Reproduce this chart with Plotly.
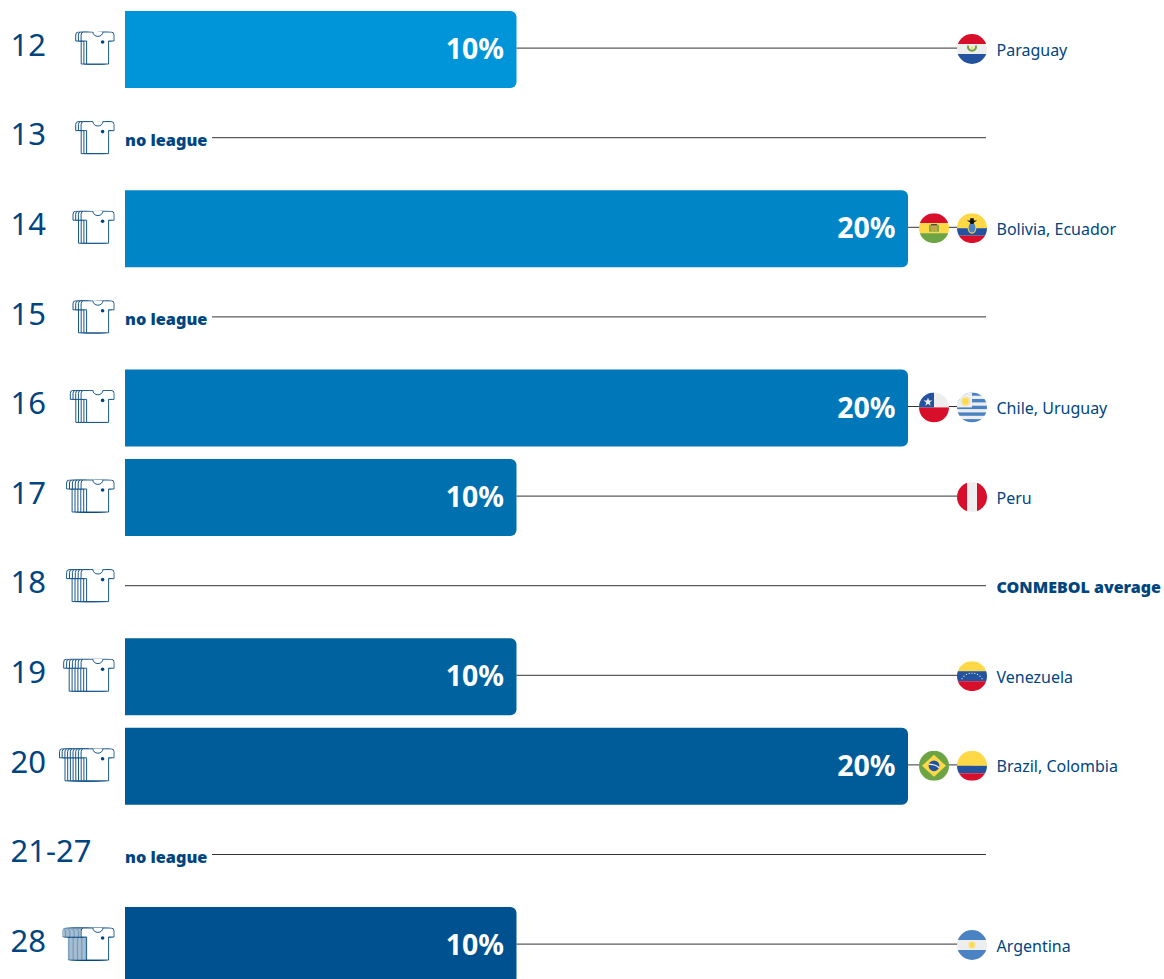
import base64
import plotly.graph_objects as go

# ---- data ----
rows = ["12", "13", "14", "15", "16", "17", "18", "19", "20", "21-27", "28"]
values = [10, None, 20, None, 20, 10, None, 10, 20, None, 10]
bar_colors = ["#0095D8", "#008DCF", "#0085C7", "#007EC0", "#0077B8", "#0070AF",
              "#0069A7", "#0063A0", "#005C98", "#005694", "#00518F"]
countries = ["Paraguay", "", "Bolivia, Ecuador", "", "Chile, Uruguay", "Peru",
             "CONMEBOL average", "Venezuela", "Brazil, Colombia", "", "Argentina"]
row_flags = [["paraguay"], [], ["bolivia", "ecuador"], [], ["chile", "uruguay"], ["peru"],
             [], ["venezuela"], ["brazil", "colombia"], [], ["argentina"]]
no_league = [False, True, False, True, False, False, False, False, False, True, False]
# back shirts behind the front one and their spacing in px
shirt_back = [2, 2, 3, 3, 4, 5, 5, 6, 8, 0, 14]
shirt_step = [2.7, 2.7, 2.7, 2.7, 2.7, 2.9, 2.9, 2.9, 2.7, 0, 1.3]

# ---- scales: the axes fill the page, one data unit = PX px ----
W, H = 1164, 979
PX = 39.15
ROW = 89.6
X0 = 125
Y0 = 49.5
NAVY = "#00457F"
LINE = "#333333"
FONT = "Noto Sans"

def px_x(p):
    return (p - X0) / PX

def px_dy(p):
    return p / ROW

idx = list(range(len(rows)))

# ---- flags and shirts as small vector pictures ----
RED, YEL, BLU, WHT, GRN, LBL = "#D80F2A", "#FFD945", "#23529F", "#EEEEEE", "#6DA544", "#4A83C4"

def bands(*items):
    return "".join(f'<rect x="0" y="{y}" width="30" height="{h}" fill="{c}"/>' for y, h, c in items)

sun = lambda cx, cy, r: (f'<circle cx="{cx}" cy="{cy}" r="{r*1.7}" fill="{YEL}" opacity=".55"/>'
                         f'<circle cx="{cx}" cy="{cy}" r="{r}" fill="{YEL}"/>')
FLAGS = {
    "paraguay": bands((0, 10, RED), (10, 10, WHT), (20, 10, BLU)) +
        f'<path d="M11.2 11.5a4 4 0 1 0 7.6 0" fill="none" stroke="{GRN}" stroke-width="2"/>' +
        f'<circle cx="15" cy="13.8" r="1.3" fill="{YEL}"/>',
    "bolivia": bands((0, 10, RED), (10, 10, YEL), (20, 10, GRN)) +
        f'<rect x="10" y="11.5" width="10" height="7" fill="{GRN}" opacity=".85"/><rect x="12" y="12.5" width="6" height="5" fill="#C9A24A"/>' +
        '<rect x="12" y="11" width="6" height="1" fill="#333"/>',
    "ecuador": bands((0, 15, YEL), (15, 7.5, BLU), (22.5, 7.5, RED)) +
        f'<ellipse cx="15" cy="14.5" rx="4.4" ry="6" fill="{YEL}"/><ellipse cx="15" cy="14.5" rx="3.4" ry="5" fill="{LBL}"/>' +
        '<path d="M9.8 7.2h10.4l-3 1.8 -.8 1.8h-2.8l-.8-1.8z M13.2 5h3.6v3h-3.6z" fill="#111"/>',
    "chile": bands((0, 15, WHT), (15, 15, RED)) +
        f'<rect x="0" y="0" width="15" height="15" fill="{BLU}"/>' +
        f'<path d="M9 5l1.1 3.2h3.3l-2.7 2 1 3.2-2.7-2-2.7 2 1-3.2-2.7-2h3.3z" fill="{WHT}"/>',
    "uruguay": bands((0, 30, WHT), (0, 3.3, LBL), (6.6, 3.4, LBL), (13.3, 3.4, LBL), (20, 3.4, LBL), (26.7, 3.3, LBL)) +
        f'<rect x="0" y="0" width="15" height="15" fill="{WHT}"/>' + sun(8.5, 9, 2.7),
    "peru": f'<rect width="30" height="30" fill="{WHT}"/><rect width="10" height="30" fill="{RED}"/><rect x="20" width="10" height="30" fill="{RED}"/>',
    "venezuela": bands((0, 10, YEL), (10, 10, BLU), (20, 10, RED)) +
        "".join(f'<circle cx="{x}" cy="{y}" r=".6" fill="{WHT}"/>' for x, y in
                [(5, 17.5), (7, 15), (9.5, 13.2), (12.2, 12.2), (15, 12), (17.8, 12.2), (20.5, 13.2), (23, 15), (25, 17.5)]),
    "brazil": f'<rect width="30" height="30" fill="{GRN}"/><path d="M15 4L27 15 15 26 3 15z" fill="{YEL}"/>' +
        f'<circle cx="15" cy="15" r="5.4" fill="{BLU}"/><path d="M9.8 13.6q6 -.6 10.4 3.4" fill="none" stroke="{WHT}" stroke-width="1.3"/>',
    "colombia": bands((0, 15, YEL), (15, 7.5, BLU), (22.5, 7.5, RED)),
    "argentina": bands((0, 10, LBL), (10, 10, WHT), (20, 10, LBL)) + sun(15, 15, 2.2),
}

def uri(svg):
    return "data:image/svg+xml;base64," + base64.b64encode(svg.encode()).decode()

def flag_svg(name):
    return uri('<svg xmlns="http://www.w3.org/2000/svg" width="30" height="30" viewBox="0 0 30 30">'
               f'<defs><clipPath id="c"><circle cx="15" cy="15" r="15"/></clipPath></defs>'
               f'<g clip-path="url(#c)">{FLAGS[name]}</g></svg>')

SHIRT = ("M3 .5H12.3A5 4.4 0 0 0 22.3 .5H30.5Q33.5 .5 33.5 3.5V9.5H28V32.5H6V9.5H.5V3.5Q.5 .5 3 .5Z")

def shirt_svg(n, step):
    w, h = 60, 34
    sw = 0.9 if step > 2 else 0.55
    parts = []
    fx = w - 34.2   # front shirt left edge
    for k in range(n, 0, -1):
        parts.append(f'<path transform="translate({fx - k*step} 0)" d="{SHIRT}" fill="#fff" stroke="{NAVY}" stroke-width="{sw}"/>')
    # white patch so that nothing of the back shirts shows through the front neck
    parts.append(f'<rect x="{fx + 8}" y="0" width="18" height="8" fill="#fff"/>')
    parts.append(f'<path transform="translate({fx} 0)" d="{SHIRT}" fill="#fff" stroke="{NAVY}" stroke-width=".9"/>')
    parts.append(f'<circle cx="{fx + 22}" cy="10.5" r="1.8" fill="{NAVY}"/>')
    return uri(f'<svg xmlns="http://www.w3.org/2000/svg" width="{w}" height="{h}" viewBox="0 0 {w} {h}">' + "".join(parts) + '</svg>')

# ---- figure ----
fig = go.Figure()

# leader lines
LINE_DY = px_dy(-1.4)
line_x, line_y = [], []
for i in idx:
    if no_league[i]:
        start, end = px_x(212), px_x(986)
    elif values[i] is None:
        start, end = px_x(125), px_x(986)
    else:
        start, end = values[i], px_x(972)
    line_x += [start, end, None]
    line_y += [i + LINE_DY, i + LINE_DY, None]
fig.add_trace(go.Scatter(x=line_x, y=line_y, mode="lines", line=dict(color=LINE, width=1), hoverinfo="skip"))

# bars
fig.add_trace(go.Bar(x=values, y=idx, orientation="h", width=77 / ROW,
                     marker=dict(color=bar_colors, line=dict(width=0)), hoverinfo="skip"))

# percentage labels
bi = [i for i in idx if values[i] is not None]
fig.add_trace(go.Scatter(x=[values[i] - 12.5 / PX for i in bi], y=[i + px_dy(2.5) for i in bi],
                         text=[f"{values[i]}%" for i in bi], mode="text", textposition="middle left",
                         textfont=dict(family=FONT, size=28.5, color="white", weight="bold"), hoverinfo="skip"))

# row labels
fig.add_trace(go.Scatter(x=[px_x(10.5)] * len(idx), y=[i + px_dy(-1.5) for i in idx], text=rows, mode="text",
                         textposition="middle right", textfont=dict(family=FONT, size=31, color=NAVY),
                         cliponaxis=False, hoverinfo="skip"))

# no league labels
nl = [i for i in idx if no_league[i]]
fig.add_trace(go.Scatter(x=[0] * len(nl), y=[i + px_dy(3) for i in nl], text=["no league"] * len(nl), mode="text",
                         textposition="middle right", textfont=dict(family=FONT, size=16.3, color=NAVY, weight=900),
                         hoverinfo="skip"))

# country labels
ci = [i for i in idx if countries[i] and values[i] is not None]
fig.add_trace(go.Scatter(x=[px_x(996.5)] * len(ci), y=[i + px_dy(2) for i in ci], text=[countries[i] for i in ci],
                         mode="text", textposition="middle right", textfont=dict(family=FONT, size=16, color=NAVY),
                         hoverinfo="skip"))
ai = [i for i in idx if countries[i] and values[i] is None]
fig.add_trace(go.Scatter(x=[px_x(996.5)] * len(ai), y=[i + px_dy(2) for i in ai], text=[countries[i] for i in ai],
                         mode="text", textposition="middle right", textfont=dict(family=FONT, size=16, color=NAVY, weight=900),
                         hoverinfo="skip"))

# flags and shirts, placed through the axes
images = []
for i in idx:
    names = row_flags[i]
    centres = [972] if len(names) == 1 else [934, 972]
    for name, cx in zip(names, centres):
        images.append(dict(source=flag_svg(name), xref="x", yref="y", x=px_x(cx), y=i + px_dy(-0.5),
                           sizex=30 / PX, sizey=30 / ROW, xanchor="center", yanchor="middle",
                           sizing="stretch", layer="above"))
    if rows[i] != "21-27":
        images.append(dict(source=shirt_svg(shirt_back[i], shirt_step[i]), xref="x", yref="y",
                           x=px_x(114.8), y=i + px_dy(-1), sizex=60 / PX, sizey=34 / ROW,
                           xanchor="right", yanchor="middle", sizing="stretch", layer="above"))

fig.update_layout(
    width=W, height=H, margin=dict(l=0, r=0, t=0, b=0), showlegend=False,
    paper_bgcolor="white", plot_bgcolor="white", barcornerradius=6, images=images,
    xaxis=dict(range=[px_x(0), px_x(W)], visible=False, fixedrange=True),
    yaxis=dict(range=[(H - Y0) / ROW, -Y0 / ROW], visible=False, fixedrange=True),
)
fig.write_html("out.html", config=dict(displayModeBar=False),
               post_script="document.body.style.margin='0';document.documentElement.style.overflow='hidden';")
